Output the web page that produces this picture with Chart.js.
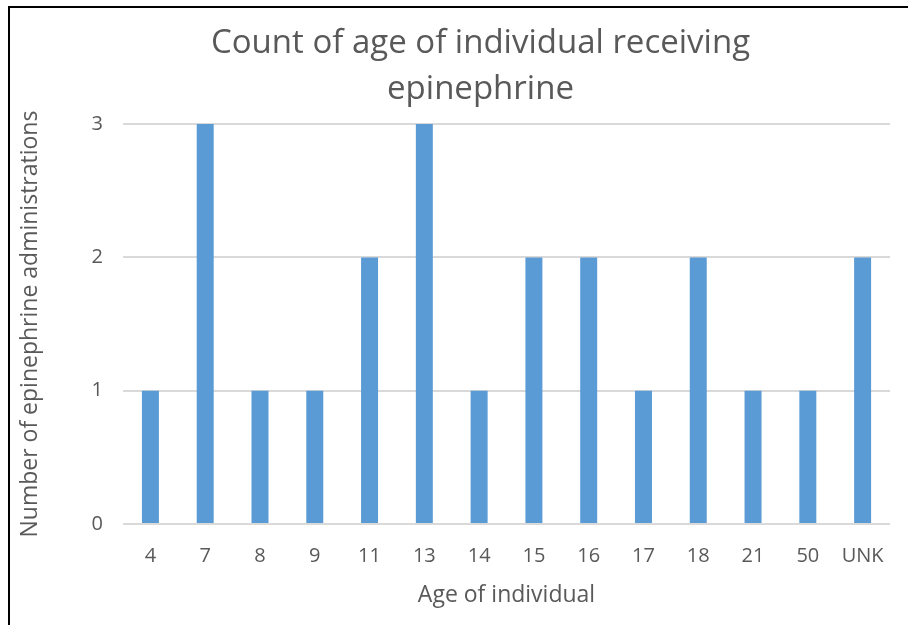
<!DOCTYPE html>
<html>
<head>
<meta charset="utf-8">
<script src="https://cdn.jsdelivr.net/npm/chart.js@4.4.1/dist/chart.umd.min.js"></script>
<style>
  html, body { margin: 0; padding: 0; background: #fff; overflow: hidden; }
  #frame {
    position: absolute;
    left: 8px;
    top: 6px;
    border-left: 2px solid #000;
    border-top: 2px solid #000;
    width: 942px;
    height: 620px;
  }
  #frame canvas { display: block; }
</style>
</head>
<body>
<div id="frame"><canvas id="chart" width="942" height="620"></canvas></div>
<script>
// ages (categories) and number of epinephrine administrations
const ages = ['4', '7', '8', '9', '11', '13', '14', '15', '16', '17', '18', '21', '50', 'UNK'];
const counts = [1, 3, 1, 1, 2, 3, 1, 2, 2, 1, 2, 1, 1, 2];
const yTicks = [0, 1, 2, 3];

const chartTitle = ['Count of age of individual receiving', 'epinephrine'];
const xTitle = 'Age of individual';
const yTitle = 'Number of epinephrine administrations';

const textColor = '#595959';
const fontFamily = '"Open Sans", Calibri, sans-serif';

const ctx = document.getElementById('chart');

new Chart(ctx, {
    type: 'bar',
    data: {
        labels: ages,
        datasets: [{
            label: 'Count',
            data: counts,
            backgroundColor: '#5B9BD5',
            borderWidth: 0,
            barPercentage: 0.31,
            categoryPercentage: 1
        }]
    },
    options: {
        responsive: false,
        animation: false,
        layout: {
            padding: { left: 3, right: 4, top: 0, bottom: 15 }
        },
        plugins: {
            legend: { display: false },
            tooltip: { enabled: false },
            title: {
                display: true,
                text: chartTitle,
                color: textColor,
                font: { family: fontFamily, size: 33, weight: 'normal', lineHeight: 1.38 },
                padding: { top: 13, bottom: 12 }
            }
        },
        scales: {
            x: {
                grid: { display: false, drawTicks: false },
                border: { display: false },
                ticks: {
                    color: textColor,
                    font: { family: fontFamily, size: 20 },
                    padding: 20,
                    maxRotation: 0,
                    autoSkip: false
                },
                title: {
                    display: true,
                    text: xTitle,
                    color: textColor,
                    font: { family: fontFamily, size: 23 },
                    padding: { top: 0, bottom: 4 }
                },
                afterFit: s => { s.height = 89; }
            },
            y: {
                min: 0,
                max: 3,
                afterBuildTicks: axis => {
                    axis.ticks = yTicks.map(v => ({ value: v }));
                },
                grid: { color: '#d9d9d9', lineWidth: 2, drawTicks: false },
                border: { display: false },
                ticks: {
                    color: textColor,
                    font: { family: fontFamily, size: 20 },
                    padding: 20
                },
                title: {
                    display: true,
                    text: yTitle,
                    color: textColor,
                    font: { family: fontFamily, size: 23 },
                    padding: { top: 4, bottom: 27 }
                }
            },
            // empty right-hand gap, the plot stops short of the chart's right edge
            gap: {
                position: 'right',
                grid: { display: false, drawTicks: false },
                border: { display: false },
                ticks: { display: false },
                afterFit: s => { s.width = 58; }
            }
        }
    }
});
</script>
</body>
</html>
